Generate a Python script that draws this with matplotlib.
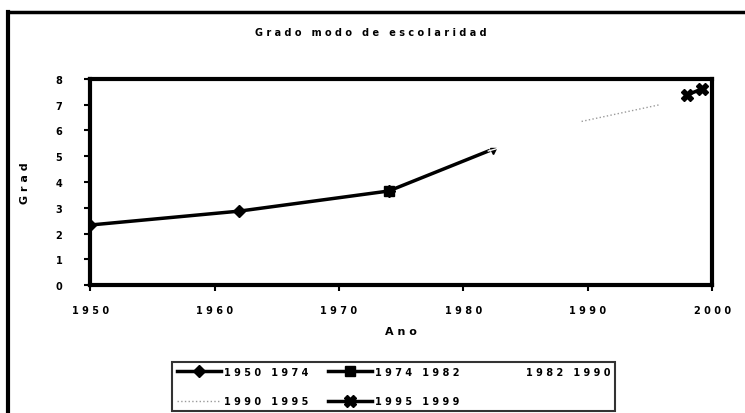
import matplotlib.pyplot as plt
from matplotlib.lines import Line2D

# data
years_a = [1950, 1962, 1974]
grade_a = [2.33, 2.87, 3.65]
years_b = [1974, 1982]
grade_b = [3.65, 5.2]
years_c = [1982, 1990]
grade_c = [5.2, 6.3]
years_d = [1989.5, 1995.8]
grade_d = [6.35, 7.0]
years_e = [1998, 1999.2]
grade_e = [7.38, 7.62]

labels = ['1950 1974', '1974 1982', '1982 1990', '1990 1995', '1995 1999']
xticks = [1950, 1960, 1970, 1980, 1990, 2000]
yticks = list(range(0, 9))

fig = plt.figure(figsize=(7.45, 4.14), dpi=100)
ax = fig.add_axes([0.121, 0.309, 0.835, 0.498])

la, = ax.plot(years_a, grade_a, color='black', lw=2.5, marker='D', ms=6.5)
lb, = ax.plot(years_b, grade_b, color='black', lw=2.5, marker='s', ms=7,
              markevery=[0])
ax.plot(years_b[-1] + 0.4, grade_b[-1], marker='v', color='black', ms=5)
lc, = ax.plot(years_c, grade_c, color='white', lw=1)
ld, = ax.plot(years_d, grade_d, color='#9a9a9a', lw=1, ls=':')
le, = ax.plot(years_e, grade_e, color='black', lw=2.5, marker='X', ms=8)

ax.set_xlim(1950, 2000)
ax.set_ylim(0, 8)
ax.set_xticks(xticks)
ax.set_yticks(yticks)
ax.set_xticklabels([' '.join(str(t)) for t in xticks], fontsize=7,
                   fontweight='bold')
ax.set_yticklabels([str(t) for t in yticks], fontsize=7, fontweight='bold')
ax.tick_params(direction='out', length=4, width=1.5)
ax.tick_params(axis='x', pad=10)
ax.tick_params(axis='y', pad=16)
for s in ax.spines.values():
    s.set_linewidth(3)

ax.set_xlabel('A n o', fontsize=8, fontweight='bold', labelpad=8)
ax.set_ylabel('G r a d', fontsize=8, fontweight='bold', labelpad=18)
fig.text(0.498, 0.92, 'G r a d o   m o d o   d e   e s c o l a r i d a d',
         ha='center', va='center', fontsize=7, fontweight='bold')

handles = [la, ld, lb, le, lc]
names = [labels[0], labels[3], labels[1], labels[4], labels[2]]
leg = fig.legend(handles, [' '.join(n) for n in names], ncol=3,
                 loc='lower left', bbox_to_anchor=(0.231, 0.005, 0.595, 0.121),
                 mode='expand', borderaxespad=0, fontsize=7, frameon=True,
                 fancybox=False, borderpad=0.5, handlelength=4.5,
                 handletextpad=0.3, labelspacing=2.0, columnspacing=1.0)
leg.get_frame().set_edgecolor('black')
leg.get_frame().set_linewidth(1.5)
for t in leg.get_texts():
    t.set_fontweight('bold')

# outer frame of the scanned chart
fig.add_artist(Line2D([0.0107, 0.0107], [0.0, 0.9686], color='black', lw=3,
                      transform=fig.transFigure))
fig.add_artist(Line2D([0.0107, 1.0], [0.9686, 0.9686], color='black', lw=2.5,
                      transform=fig.transFigure))

fig.savefig('out.png', dpi=100)
